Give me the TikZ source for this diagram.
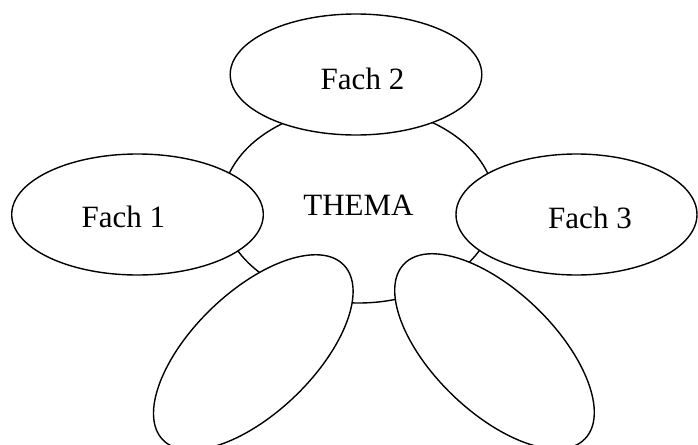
\documentclass[tikz,border=0pt]{standalone}
\usepackage{fontspec}
\setmainfont{Liberation Serif}
\usetikzlibrary{shapes.geometric}

\begin{document}
\begin{tikzpicture}[
  x=0.5pt, y=-0.5pt,
  oval/.style={draw, ellipse, line width=0.7pt, inner sep=0pt,
               font=\fontsize{15.5}{18}\selectfont},
  fach/.style={oval, fill=white, minimum width=125.8pt, minimum height=60.5pt},
  lbl/.style={anchor=base, inner sep=0pt, font=\fontsize{15.5}{18}\selectfont},
]
\useasboundingbox (0,0) rectangle (698,445);
\clip (0,0) rectangle (698,445);

% ---- topic in the middle, drawn first so the subjects cover it -------------
\node[oval, minimum width=136.5pt, minimum height=98pt] (thema) at (358.5,205) {THEMA};

% ---- subjects around the topic ---------------------------------------------
\node[fach] (fach1) at (137.5,214.5) {};
\node[fach] (fach2) at (356,74.5) {};
\node[fach, minimum width=120.5pt] (fach3) at (576.5,214.5) {};

% the two empty ones at the bottom are tilted and run off the page
\node[fach, rotate=44]  (fach4) at (253.3,352.4) {};
\node[fach, rotate=-44] (fach5) at (494.5,351.4) {};

% texts sit a little off the centres
\node[lbl] (t1) at (123.3,227.3) {Fach 1};
\node[lbl] (t2) at (362.5,89.3)  {Fach 2};
\node[lbl] (t3) at (590,228.3)   {Fach 3};
\end{tikzpicture}
\end{document}
